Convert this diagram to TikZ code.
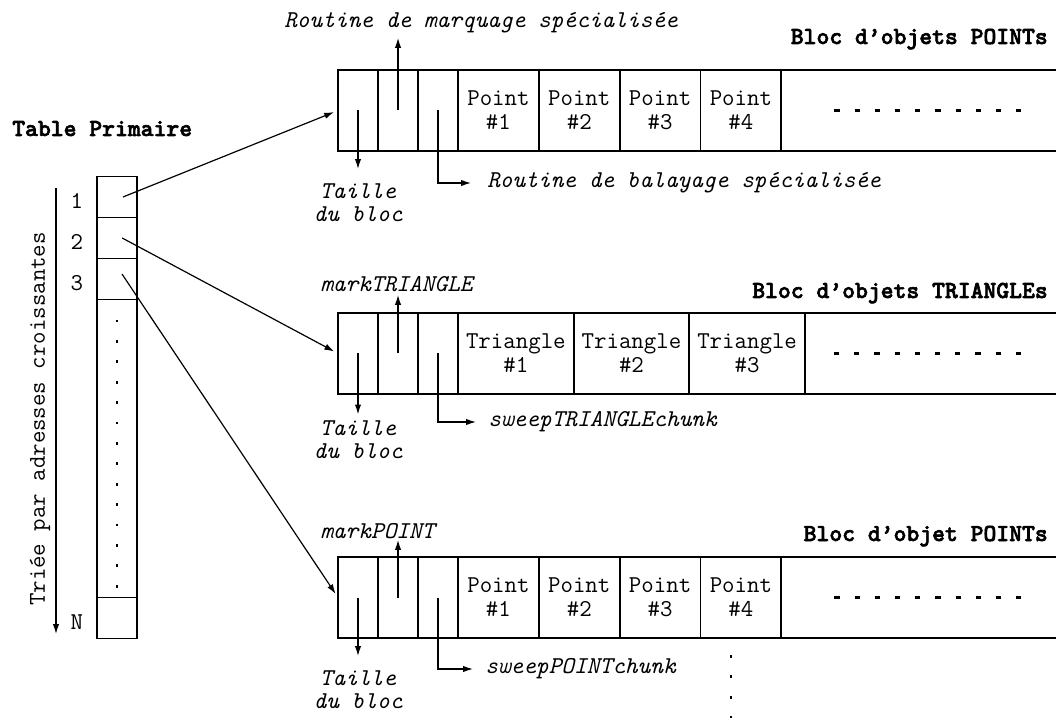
\documentclass[tikz,border=0pt]{standalone}
\usepackage{fontspec}
\usetikzlibrary{positioning,calc,arrows.meta}
\newfontfamily\darkmono{lmmonolt10-bold.otf}[FakeBold=2.5]
\newcommand{\txtfont}{\ttfamily\fontsize{17.2}{17}\selectfont}
\newcommand{\lblfont}{\ttfamily\fontsize{17.2}{16.5}\selectfont\itshape}
\newcommand{\ttlfont}{\darkmono\fontsize{17.4}{17}\selectfont}

\begin{document}
\begin{tikzpicture}[x=0.025cm, y=-0.025cm,
	hd/.style={draw, line width=0.8pt, minimum width=1cm, minimum height=2.025cm, inner sep=0pt, outer sep=0pt},
	obj/.style={draw, line width=1.4pt, minimum width=2.02cm, minimum height=2.025cm, inner sep=0pt, outer sep=0pt, align=center, font=\txtfont},
	tri/.style={obj, minimum width=2.89cm},
	rest/.style={obj, minimum width=8cm},
	cell/.style={draw, line width=0.8pt, minimum width=1cm, minimum height=1.025cm, inner sep=0pt, outer sep=0pt},
	lbl/.style={font=\lblfont, inner sep=0pt, align=center},
	ttl/.style={font=\ttlfont, inner sep=0pt},
	num/.style={font=\txtfont, inner sep=0pt},
	ptr/.style={line width=0.85pt, -{Latex[length=7pt,width=4.5pt]}},
	dashrow/.style={line width=1.6pt, dash pattern=on 0.13cm off 0.375cm},
	dotcol/.style={line width=1.6pt, dash pattern=on 0.07cm off 0.44cm}]
	\clip (0,0) rectangle (1056,720);
	
	% table primaire
	\node[ttl, anchor=base west] (tp) at (12,136) {Table Primaire};
	\node[cell] (r1) at (117,197) {};
	\node[cell, below=0pt of r1] (r2) {};
	\node[cell, below=0pt of r2] (r3) {};
	\node[cell, minimum height=7.45cm, below=0pt of r3] (rd) {};
	\node[cell, below=0pt of rd] (rn) {};
	\draw[dotcol] (rd.north) ++(0,20) -- ++(0,268);
	\node[num, left=0.34cm of r1, yshift=-0.1cm] (n1) {1};
	\node[num, left=0.34cm of r2, yshift=-0.1cm] (n2) {2};
	\node[num, left=0.34cm of r3, yshift=-0.1cm] (n3) {3};
	\node[num, left=0.34cm of rn, yshift=-0.1cm] (nn) {N};
	\coordinate (ax0) at (56,188);
	\coordinate (ax1) at (56,634);
	\draw[ptr] (ax0) -- (ax1);
	\node[num, rotate=90] (tr) at (40,419) {Triée par adresses croissantes};
	
	% bloc des points
	\node[hd] (a0) at (358,110.5) {};
	\node[hd, right=0pt of a0] (a1) {};
	\node[hd, right=0pt of a1] (a2) {};
	\node[obj, right=0pt of a2] (p1) {Point\\\#1};
	\node[obj, right=0pt of p1] (p2) {Point\\\#2};
	\node[obj, right=0pt of p2] (p3) {Point\\\#3};
	\node[obj, right=0pt of p3] (p4) {Point\\\#4};
	\node[rest, right=0pt of p4] (pd) {};
	\draw[dashrow] (pd.west) ++(53,0) -- ++(187,0);
	\node[ttl, anchor=base east] (b1) at (1048,44) {Bloc d’objets POINTs};
	\node[lbl, anchor=base west] (m1) at (284,28) {Routine de marquage spécialisée};
	\node[lbl, below=0.8cm of a0] (s1) {Taille\\du bloc};
	\node[lbl, anchor=west] (w1) at (487,183) {Routine de balayage spécialisée};
	\draw[ptr] (a1.center) -- ($(a1.center |- m1.base)+(0,10)$);
	\draw[ptr, shorten >=10pt] (a0.center) -- (s1.north);
	\draw[ptr] (a2.center) |- ([xshift=-0.4cm]w1.west);
	
	% bloc des triangles
	\node[hd] (c0) at (358,353.5) {};
	\node[hd, right=0pt of c0] (c1) {};
	\node[hd, right=0pt of c1] (c2) {};
	\node[tri, right=0pt of c2] (t1) {Triangle\\\#1};
	\node[tri, right=0pt of t1] (t2) {Triangle\\\#2};
	\node[tri, right=0pt of t2] (t3) {Triangle\\\#3};
	\node[rest, right=0pt of t3] (td) {};
	\draw[dashrow] (td.west) ++(29,0) -- ++(187,0);
	\node[ttl, anchor=base east] (b2) at (1048,298) {Bloc d’objets TRIANGLEs};
	\node[lbl, anchor=base west] (m2) at (320,292) {markTRIANGLE};
	\node[lbl, below=0.65cm of c0] (s2) {Taille\\du bloc};
	\node[lbl, anchor=west] (w2) at (488,422) {sweepTRIANGLEchunk};
	\draw[ptr] (c1.center) -- ($(c1.center |- m2.base)+(0,3)$);
	\draw[ptr, shorten >=4pt] (c0.center) -- (s2.north);
	\draw[ptr] (c2.center) |- ([xshift=-0.3cm]w2.west);
	
	% second bloc des points
	\node[hd] (e0) at (358,597.5) {};
	\node[hd, right=0pt of e0] (e1) {};
	\node[hd, right=0pt of e1] (e2) {};
	\node[obj, right=0pt of e2] (q1) {Point\\\#1};
	\node[obj, right=0pt of q1] (q2) {Point\\\#2};
	\node[obj, right=0pt of q2] (q3) {Point\\\#3};
	\node[obj, right=0pt of q3] (q4) {Point\\\#4};
	\node[rest, right=0pt of q4] (qd) {};
	\draw[dashrow] (qd.west) ++(53,0) -- ++(187,0);
	\node[ttl, anchor=base east] (b3) at (1048,541) {Bloc d’objet POINTs};
	\node[lbl, anchor=base west] (m3) at (320,538) {markPOINT};
	\node[lbl, below=0.8cm of e0] (s3) {Taille\\du bloc};
	\node[lbl, anchor=west] (w3) at (485,669) {sweepPOINTchunk};
	\draw[ptr] (e1.center) -- ($(e1.center |- m3.base)+(0,2)$);
	\draw[ptr, shorten >=10pt] (e0.center) -- (s3.north);
	\draw[ptr] (e2.center) |- ([xshift=-0.3cm]w3.west);
	\draw[dotcol] ($(q4.south)+(-10,17)$) -- ++(0,63);
	
	% pointeurs de la table
	\draw[ptr, shorten >=3pt] ([xshift=0.15cm]r1.center) -- (a0.west);
	\draw[ptr, shorten >=3pt] ([xshift=0.13cm]r2.center) -- (c0.west);
	\draw[ptr, shorten >=3pt] ([shift={(5,-5)}]r3.center) -- (e0.west);
\end{tikzpicture}
\end{document}
